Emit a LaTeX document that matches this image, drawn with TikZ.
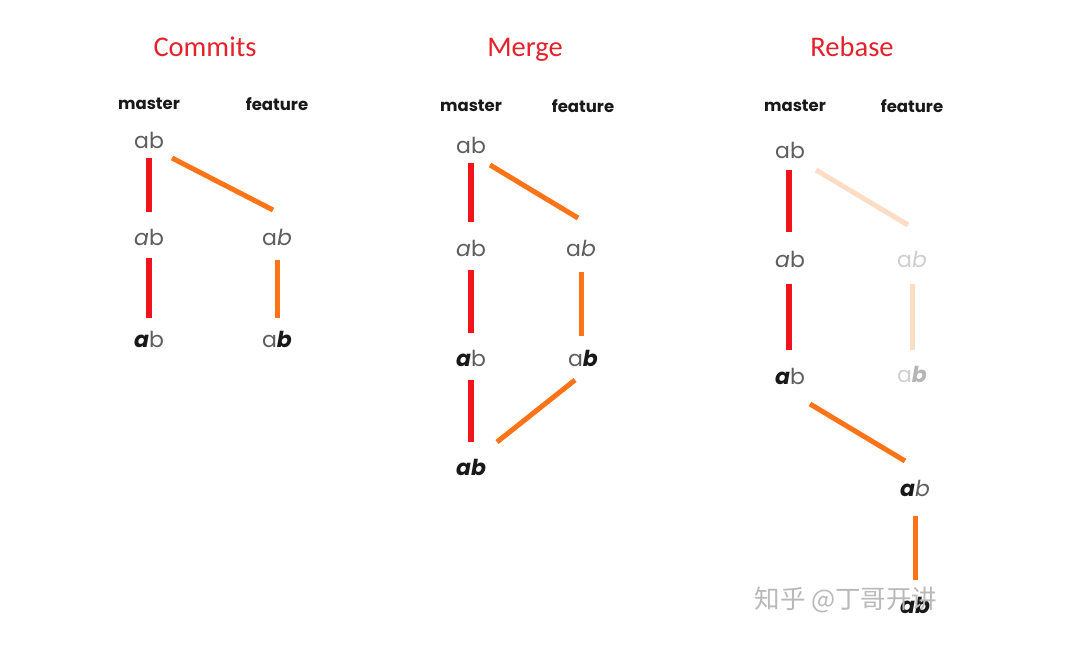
\documentclass[tikz,border=0pt]{standalone}
\usepackage{fontspec}
\setmainfont{Poppins}
\newfontfamily\titlefont{Carlito}
\newfontfamily\cjkfont{Noto Sans CJK SC}
\usetikzlibrary{calc}
\definecolor{tred}{HTML}{E3222B}
\definecolor{mred}{HTML}{F0141C}
\definecolor{mor}{HTML}{FC7417}
\definecolor{fador}{HTML}{FDDCC6}
\definecolor{lg}{HTML}{5E5E5E}
\definecolor{fg}{HTML}{CFCFCF}
\definecolor{fgb}{HTML}{B5B5B5}
\tikzset{
  title/.style={text=tred, font=\titlefont\fontsize{28.5}{28.5}\selectfont, inner sep=0pt, anchor=base},
  branch/.style={text=black!90, font=\bfseries\fontsize{16.5}{16.5}\selectfont, inner sep=0pt},
  ver/.style={text=black!90, font=\fontsize{22}{22}\selectfont, inner sep=0pt},
  redline/.style={draw=mred, line width=6pt},
  orline/.style={draw=mor, line width=5pt},
  fadline/.style={draw=fador, line width=5pt},
}
\begin{document}
\begin{tikzpicture}[x=1pt,y=-1pt]
\fill[white] (0,0) rectangle (1075,650);
\useasboundingbox (0,0) rectangle (1075,650);
% titles
\node[title] (t1) at (205,57) {Commits};
\node[title] (t2) at (525,57) {Merge};
\node[title] (t3) at (852,57) {Rebase};
% branch labels
\node[branch] (h1) at (149,104) {master};
\node[branch] (h2) at (277,104) {feature};
\node[branch] (h3) at (471,106) {master};
\node[branch] (h4) at (583,106) {feature};
\node[branch] (h5) at (795,106) {master};
\node[branch] (h6) at (912,106) {feature};
% Commits
\node[ver] (A1) at (149,140) {\color{lg}ab};
\node[ver] (A2) at (149,237) {\color{lg}\textit{a}b};
\node[ver] (A3) at (149,339) {\textbf{\textit{a}}{\color{lg}b}};
\node[ver] (B2) at (277,237) {\color{lg}a\textit{b}};
\node[ver] (B3) at (277,339) {{\color{lg}a}\textbf{\textit{b}}};
\draw[redline] ($(A1)+(0,18)$) -- ($(A2)+(0,-25)$);
\draw[redline] ($(A2)+(0,21)$) -- ($(A3)+(0,-21)$);
\draw[orline] ($(A1)+(23,18)$) -- ($(B2)+(-4,-27)$);
\draw[orline] ($(B2)+(0,23)$) -- ($(B3)+(0,-21)$);
% Merge
\node[ver] (M1) at (471,145) {\color{lg}ab};
\node[ver] (M2) at (471,248) {\color{lg}\textit{a}b};
\node[ver] (M3) at (471,358) {\textbf{\textit{a}}{\color{lg}b}};
\node[ver] (M4) at (471,467) {\textbf{\textit{ab}}};
\node[ver] (N2) at (581,248) {\color{lg}a\textit{b}};
\node[ver] (N3) at (583,358) {{\color{lg}a}\textbf{\textit{b}}};
\draw[redline] ($(M1)+(0,18)$) -- ($(M2)+(0,-26)$);
\draw[orline] ($(M1)+(19,20)$) -- ($(N2)+(-3,-30)$);
\draw[redline] ($(M2)+(0,22)$) -- ($(M3)+(0,-25)$);
\draw[orline] ($(N2)+(0,24)$) -- ($(N3)+(-2,-22)$);
\draw[redline] ($(M3)+(0,22)$) -- ($(M4)+(0,-25)$);
\draw[orline] ($(M4)+(26,-25)$) -- ($(N3)+(-8,22)$);
% Rebase
\node[ver] (R1) at (790,150) {\color{lg}ab};
\node[ver] (R2) at (790,259) {\color{lg}\textit{a}b};
\node[ver] (R3) at (790,376) {\textbf{\textit{a}}{\color{lg}b}};
\node[ver] (S2) at (912,259) {\color{fg}a\textit{b}};
\node[ver] (S3) at (912,374) {{\color{fg}a}{\color{fgb}\textbf{\textit{b}}}};
\node[ver] (T1) at (915,488) {\textbf{\textit{a}}{\color{lg}\textit{b}}};
\node[ver] (T2) at (915,605) {\textbf{\textit{ab}}};
\draw[redline] ($(R1)+(-1,20)$) -- ($(R2)+(-1,-27)$);
\draw[fadline] ($(R1)+(26,20)$) -- ($(S2)+(-4,-34)$);
\draw[redline] ($(R2)+(-1,25)$) -- ($(R3)+(-1,-26)$);
\draw[fadline] ($(S2)+(0,25)$) -- ($(S3)+(0,-24)$);
\draw[orline] ($(R3)+(20,28)$) -- ($(T1)+(-10,-27)$);
\draw[orline] ($(T1)+(0,28)$) -- ($(T2)+(0,-25)$);
% watermark
\node[text=gray!55, font=\cjkfont\fontsize{25.5}{25.5}\selectfont, inner sep=0pt] (wm) at (846,600) {知乎 @丁哥开讲};
\end{tikzpicture}
\end{document}
